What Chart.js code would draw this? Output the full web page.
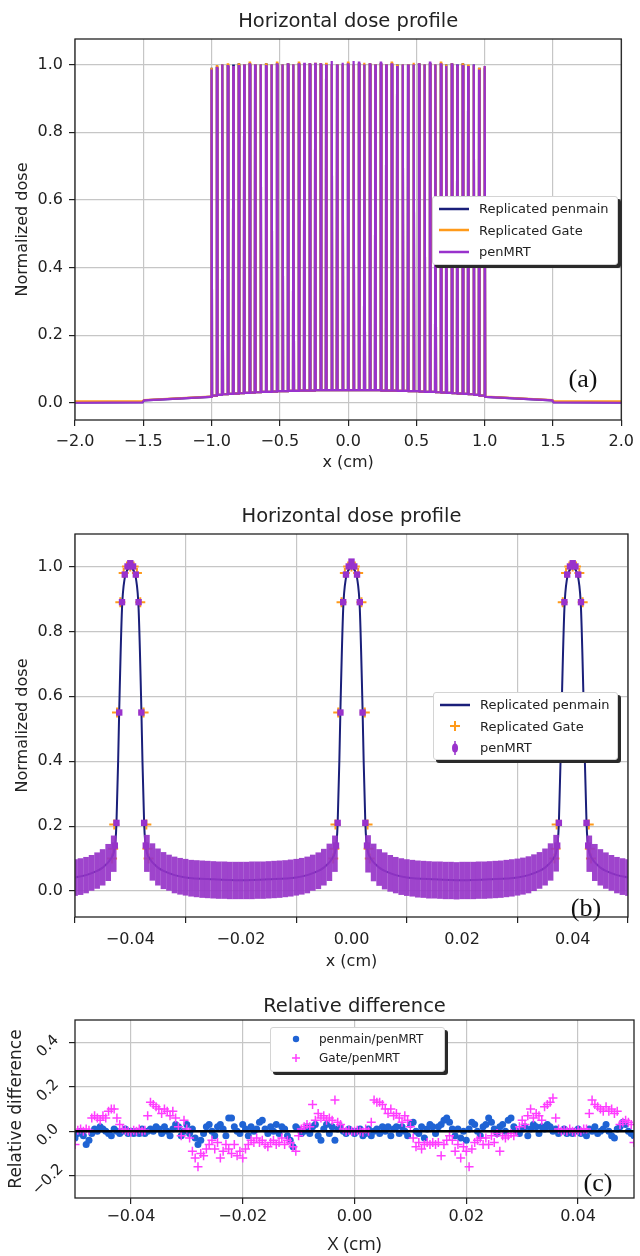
<!DOCTYPE html>
<html>
<head>
<meta charset="utf-8">
<script src="https://cdn.jsdelivr.net/npm/chart.js@4.4.1/dist/chart.umd.min.js"></script>
<style>
  body { margin: 0; background: #fff; }
  #page { position: relative; width: 640px; height: 1256px; overflow: hidden; font-family: "DejaVu Sans", sans-serif; }
  canvas { position: absolute; left: 0; }
  .legend { position: absolute; background: #fff; border: 1px solid #d4d4d4; border-radius: 3px; box-shadow: 3px 3px 0 #2a2a2a; color: #222; box-sizing: border-box; padding: 1px 0 0 6px; font-size: 13px; }
  .legend .row { display: flex; align-items: center; height: 21.5px; white-space: nowrap; }
  .legend svg { margin-right: 10px; flex: none; }
  .legendC { font-size: 12px; padding-left: 12px; }
  .legendC .row { height: 19px; }
  .tag { position: absolute; transform: translate(-50%, -50%); font-family: "Liberation Serif", serif; font-size: 26px; color: #111; }
</style>
</head>
<body>
<div id="page">
  <canvas id="chartA" width="640" height="475" style="top:0"></canvas>
  <canvas id="chartB" width="640" height="500" style="top:475px"></canvas>
  <canvas id="chartC" width="640" height="281" style="top:975px"></canvas>

  <div class="legend" style="left:432px;top:196px;width:186px;height:69px">
    <div class="row"><svg width="30" height="10"><line x1="0" y1="5" x2="30" y2="5" stroke="#1a1f7a" stroke-width="2.5"/></svg>Replicated penmain</div>
    <div class="row"><svg width="30" height="10"><line x1="0" y1="5" x2="30" y2="5" stroke="#ff9a1a" stroke-width="2.5"/></svg>Replicated Gate</div>
    <div class="row"><svg width="30" height="10"><line x1="0" y1="5" x2="30" y2="5" stroke="#9932cc" stroke-width="2.5"/></svg>penMRT</div>
  </div>
  <div class="legend" style="left:433px;top:692px;width:185px;height:68px">
    <div class="row"><svg width="30" height="12"><line x1="0" y1="6" x2="30" y2="6" stroke="#1a1f7a" stroke-width="2.5"/></svg>Replicated penmain</div>
    <div class="row"><svg width="30" height="12"><path d="M15 1 V11 M10 6 H20" stroke="#ff9a1a" stroke-width="2"/></svg>Replicated Gate</div>
    <div class="row"><svg width="30" height="14"><path d="M15 0 V14" stroke="#9932cc" stroke-width="1.5"/><ellipse cx="15" cy="7" rx="3" ry="4.5" fill="#9932cc"/></svg>penMRT</div>
  </div>
  <div class="legend legendC" style="left:270px;top:1027px;width:175px;height:45px">
    <div class="row"><svg width="26" height="10"><circle cx="13" cy="5" r="3.2" fill="#1f63d4"/></svg>penmain/penMRT</div>
    <div class="row"><svg width="26" height="10"><path d="M13 1 V9 M9 5 H17" stroke="#ff3dff" stroke-width="1.5"/></svg>Gate/penMRT</div>
  </div>

  <div class="tag" style="left:583px;top:379px">(a)</div>
  <div class="tag" style="left:586px;top:908px">(b)</div>
  <div class="tag" style="left:598px;top:1183px">(c)</div>
</div>

<script>
// ---------- panel (a): full field, 51 microbeams ----------
const aXTicks = [-2.0, -1.5, -1.0, -0.5, 0.0, 0.5, 1.0, 1.5, 2.0];
const aYTicks = [0.0, 0.2, 0.4, 0.6, 0.8, 1.0];
const aPeakX = [-1.00, -0.96, -0.92, -0.88, -0.84, -0.80, -0.76, -0.72, -0.68, -0.64,
  -0.60, -0.56, -0.52, -0.48, -0.44, -0.40, -0.36, -0.32, -0.28, -0.24,
  -0.20, -0.16, -0.12, -0.08, -0.04, 0.00, 0.04, 0.08, 0.12, 0.16,
  0.20, 0.24, 0.28, 0.32, 0.36, 0.40, 0.44, 0.48, 0.52, 0.56,
  0.60, 0.64, 0.68, 0.72, 0.76, 0.80, 0.84, 0.88, 0.92, 0.96, 1.00];
// half widths of a beam (cm) at its base and at its top
const aBeamBase = 0.004;
const aBeamTop = 0.0015;
const aPenmrtPeak = [0.985, 0.99, 1.0, 0.995, 0.995, 0.995, 1.0, 1.0, 1.0, 1.0,
  0.995, 1.0, 1.0, 1.0, 1.0, 1.0, 1.0, 1.005, 1.0, 1.005,
  1.0, 1.0, 1.01, 1.0, 1.005, 1.0, 1.01, 1.005, 1.0, 1.0,
  1.0, 1.005, 1.0, 1.0, 0.995, 1.0, 1.0, 1.0, 1.0, 1.0,
  1.005, 1.0, 1.0, 0.995, 1.0, 1.0, 0.995, 0.995, 1.0, 0.985, 0.995];
const aGatePeak = [0.99, 0.995, 1.0, 1.0, 0.995, 1.0, 1.0, 1.005, 1.0, 1.0,
  1.0, 1.0, 1.005, 1.0, 1.0, 1.0, 1.005, 1.0, 1.0, 1.005,
  1.0, 1.005, 1.0, 1.0, 1.0, 1.005, 1.0, 1.0, 1.005, 1.0,
  1.0, 1.0, 1.0, 1.005, 1.0, 1.0, 1.0, 1.005, 1.0, 1.0,
  1.0, 1.0, 1.005, 1.0, 1.0, 0.995, 1.0, 1.0, 0.995, 0.99, 0.995];
const aPenmainPeak = [0.99, 0.99, 1.0, 0.995, 1.0, 1.0, 1.0, 1.0, 1.0, 1.0,
  1.0, 1.0, 1.0, 1.0, 1.0, 1.0, 1.0, 1.0, 1.0, 1.0,
  1.0, 1.0, 1.0, 1.0, 1.0, 1.0, 1.0, 1.0, 1.0, 1.0,
  1.0, 1.0, 1.0, 1.0, 1.0, 1.0, 1.0, 1.0, 1.0, 1.0,
  1.0, 1.0, 1.0, 1.0, 1.0, 1.0, 1.0, 0.995, 1.0, 0.99, 0.99];
const aValley = [0.022, 0.024, 0.026, 0.027, 0.028, 0.029, 0.030, 0.031, 0.032, 0.033,
  0.033, 0.034, 0.035, 0.035, 0.036, 0.036, 0.037, 0.037, 0.037, 0.038,
  0.038, 0.038, 0.038, 0.038, 0.038, 0.038, 0.038, 0.038, 0.038, 0.038,
  0.038, 0.037, 0.037, 0.037, 0.036, 0.036, 0.035, 0.035, 0.034, 0.033,
  0.033, 0.032, 0.031, 0.030, 0.029, 0.028, 0.027, 0.026, 0.024, 0.022];
const aOuterLeftX = [-2.0, -1.505, -1.495, -1.01];
const aOuterRightX = [1.01, 1.495, 1.505, 2.0];
const aPenmrtLeft = [0.001, 0.002, 0.008, 0.018];
const aPenmrtRight = [0.018, 0.008, 0.002, 0.001];
const aGateLeft = [0.005, 0.006, 0.009, 0.019];
const aGateRight = [0.019, 0.009, 0.006, 0.005];
const aPenmainLeft = [0.002, 0.003, 0.008, 0.018];
const aPenmainRight = [0.018, 0.008, 0.003, 0.002];

// ---------- panel (b): zoom on three beams ----------
const bXTicks = [-0.04, -0.02, 0.00, 0.02, 0.04];
const bYTicks = [0.0, 0.2, 0.4, 0.6, 0.8, 1.0];
const bLineX = [-0.050, -0.048, -0.046, -0.045, -0.0445, -0.044, -0.0435, -0.043, -0.0427, -0.0425,
  -0.0422, -0.0420, -0.0415, -0.0410, -0.0405, -0.0400, -0.0395, -0.0390, -0.0385, -0.0380,
  -0.0378, -0.0375, -0.0373, -0.0370, -0.0365, -0.0360, -0.0355, -0.0350, -0.0340, -0.0320,
  -0.0300, -0.0250, -0.0200, -0.0150, -0.0100, -0.0080, -0.0060, -0.0050, -0.0045, -0.0040,
  -0.0035, -0.0030, -0.0027, -0.0025, -0.0022, -0.0020, -0.0015, -0.0010, -0.0005, 0.0000,
  0.0005, 0.0010, 0.0015, 0.0020, 0.0022, 0.0025, 0.0027, 0.0030, 0.0035, 0.0040,
  0.0045, 0.0050, 0.0060, 0.0080, 0.0100, 0.0150, 0.0200, 0.0250, 0.0300, 0.0320,
  0.0340, 0.0350, 0.0355, 0.0360, 0.0365, 0.0370, 0.0373, 0.0375, 0.0378, 0.0380,
  0.0385, 0.0390, 0.0395, 0.0400, 0.0405, 0.0410, 0.0415, 0.0420, 0.0422, 0.0425,
  0.0427, 0.0430, 0.0435, 0.0440, 0.0445, 0.0450, 0.0460, 0.0480, 0.0500];
const bPenmain = [0.042, 0.049, 0.062, 0.072, 0.080, 0.088, 0.100, 0.118, 0.150, 0.210,
  0.400, 0.560, 0.870, 0.965, 0.990, 1.000, 0.990, 0.965, 0.870, 0.560,
  0.400, 0.210, 0.150, 0.118, 0.100, 0.088, 0.080, 0.072, 0.062, 0.049,
  0.042, 0.036, 0.033, 0.036, 0.042, 0.049, 0.062, 0.072, 0.080, 0.088,
  0.100, 0.118, 0.150, 0.210, 0.400, 0.560, 0.870, 0.965, 0.990, 1.000,
  0.990, 0.965, 0.870, 0.560, 0.400, 0.210, 0.150, 0.118, 0.100, 0.088,
  0.080, 0.072, 0.062, 0.049, 0.042, 0.036, 0.033, 0.036, 0.042, 0.049,
  0.062, 0.072, 0.080, 0.088, 0.100, 0.118, 0.150, 0.210, 0.400, 0.560,
  0.870, 0.965, 0.990, 1.000, 0.990, 0.965, 0.870, 0.560, 0.400, 0.210,
  0.150, 0.118, 0.100, 0.088, 0.080, 0.072, 0.062, 0.049, 0.042];
const bGateX = [-0.0433, -0.0431, -0.0429, -0.0424, -0.0418, -0.0412, -0.0406, -0.0400, -0.0394, -0.0388, -0.0382, -0.0376, -0.0371, -0.0369, -0.0367,
  -0.0033, -0.0031, -0.0029, -0.0024, -0.0018, -0.0012, -0.0006, 0.0000, 0.0006, 0.0012, 0.0018, 0.0024, 0.0029, 0.0031, 0.0033,
  0.0367, 0.0369, 0.0371, 0.0376, 0.0382, 0.0388, 0.0394, 0.0400, 0.0406, 0.0412, 0.0418, 0.0424, 0.0429, 0.0431, 0.0433];
const bGate = [0.10, 0.13, 0.205, 0.55, 0.89, 0.98, 1.0, 1.0, 1.0, 0.98, 0.89, 0.55, 0.205, 0.13, 0.10,
  0.10, 0.13, 0.205, 0.55, 0.89, 0.98, 1.0, 1.0, 1.0, 0.98, 0.89, 0.55, 0.205, 0.13, 0.10,
  0.10, 0.13, 0.205, 0.55, 0.89, 0.98, 1.0, 1.0, 1.0, 0.98, 0.89, 0.55, 0.205, 0.13, 0.10];
const bMrtX = [-0.0428, -0.0425, -0.0420, -0.0415, -0.0410, -0.0405, -0.0400, -0.0395, -0.0390, -0.0385, -0.0380, -0.0375, -0.0372,
  -0.0028, -0.0025, -0.0020, -0.0015, -0.0010, -0.0005, 0.0000, 0.0005, 0.0010, 0.0015, 0.0020, 0.0025, 0.0028,
  0.0372, 0.0375, 0.0380, 0.0385, 0.0390, 0.0395, 0.0400, 0.0405, 0.0410, 0.0415, 0.0420, 0.0425, 0.0428];
const bMrt = [0.14, 0.21, 0.55, 0.89, 0.975, 1.0, 1.01, 1.0, 0.975, 0.89, 0.55, 0.21, 0.14,
  0.14, 0.21, 0.55, 0.89, 0.975, 1.0, 1.015, 1.0, 0.975, 0.89, 0.55, 0.21, 0.14,
  0.14, 0.21, 0.55, 0.89, 0.975, 1.0, 1.01, 1.0, 0.975, 0.89, 0.55, 0.21, 0.14];
// penMRT error bars in the valleys (low / high end of each bar)
const bErrX = [-0.050, -0.049, -0.048, -0.047, -0.046, -0.045, -0.044, -0.043,
  -0.037, -0.036, -0.035, -0.034, -0.033, -0.032, -0.031, -0.030, -0.029, -0.028,
  -0.027, -0.026, -0.025, -0.024, -0.023, -0.022, -0.021, -0.020, -0.019, -0.018,
  -0.017, -0.016, -0.015, -0.014, -0.013, -0.012, -0.011, -0.010, -0.009, -0.008,
  -0.007, -0.006, -0.005, -0.004, -0.003,
  0.003, 0.004, 0.005, 0.006, 0.007, 0.008, 0.009, 0.010, 0.011, 0.012,
  0.013, 0.014, 0.015, 0.016, 0.017, 0.018, 0.019, 0.020, 0.021, 0.022,
  0.023, 0.024, 0.025, 0.026, 0.027, 0.028, 0.029, 0.030, 0.031, 0.032,
  0.033, 0.034, 0.035, 0.036, 0.037,
  0.043, 0.044, 0.045, 0.046, 0.047, 0.048, 0.049, 0.050];
const bErrLo = [-0.014, -0.011, -0.006, 0.000, 0.008, 0.018, 0.032, 0.060,
  0.060, 0.033, 0.018, 0.007, 0.000, -0.006, -0.010, -0.013, -0.016, -0.018,
  -0.020, -0.021, -0.022, -0.023, -0.023, -0.024, -0.024, -0.024, -0.024, -0.024,
  -0.023, -0.023, -0.022, -0.021, -0.020, -0.018, -0.016, -0.013, -0.010, -0.006,
  0.000, 0.007, 0.018, 0.032, 0.060,
  0.058, 0.031, 0.017, 0.006, -0.001, -0.006, -0.011, -0.014, -0.016, -0.019,
  -0.020, -0.022, -0.022, -0.023, -0.024, -0.024, -0.025, -0.024, -0.024, -0.024,
  -0.023, -0.023, -0.022, -0.021, -0.020, -0.018, -0.016, -0.013, -0.010, -0.006,
  0.001, 0.008, 0.018, 0.033, 0.061,
  0.060, 0.032, 0.018, 0.008, 0.000, -0.006, -0.011, -0.014];
const bErrHi = [0.097, 0.100, 0.104, 0.110, 0.118, 0.128, 0.144, 0.170,
  0.172, 0.146, 0.130, 0.119, 0.111, 0.105, 0.101, 0.098, 0.095, 0.094,
  0.093, 0.092, 0.091, 0.090, 0.090, 0.089, 0.089, 0.089, 0.089, 0.090,
  0.090, 0.090, 0.091, 0.092, 0.093, 0.094, 0.096, 0.098, 0.101, 0.105,
  0.111, 0.118, 0.129, 0.145, 0.170,
  0.171, 0.145, 0.128, 0.118, 0.110, 0.104, 0.100, 0.097, 0.095, 0.093,
  0.092, 0.091, 0.090, 0.090, 0.089, 0.089, 0.088, 0.089, 0.089, 0.089,
  0.090, 0.090, 0.091, 0.092, 0.093, 0.095, 0.097, 0.099, 0.102, 0.106,
  0.112, 0.119, 0.130, 0.146, 0.172,
  0.170, 0.144, 0.128, 0.118, 0.110, 0.104, 0.100, 0.097];

// ---------- panel (c): relative difference ----------
const cXTicks = [-0.04, -0.02, 0.00, 0.02, 0.04];
const cYTicks = [-0.2, 0.0, 0.2, 0.4];
const cX = [-0.0500, -0.0495, -0.0490, -0.0485, -0.0480, -0.0475, -0.0470, -0.0465, -0.0460, -0.0455,
  -0.0450, -0.0445, -0.0440, -0.0435, -0.0430, -0.0425, -0.0420, -0.0415, -0.0410, -0.0405,
  -0.0400, -0.0395, -0.0390, -0.0385, -0.0380, -0.0375, -0.0370, -0.0365, -0.0360, -0.0355,
  -0.0350, -0.0345, -0.0340, -0.0335, -0.0330, -0.0325, -0.0320, -0.0315, -0.0310, -0.0305,
  -0.0300, -0.0295, -0.0290, -0.0285, -0.0280, -0.0275, -0.0270, -0.0265, -0.0260, -0.0255,
  -0.0250, -0.0245, -0.0240, -0.0235, -0.0230, -0.0225, -0.0220, -0.0215, -0.0210, -0.0205,
  -0.0200, -0.0195, -0.0190, -0.0185, -0.0180, -0.0175, -0.0170, -0.0165, -0.0160, -0.0155,
  -0.0150, -0.0145, -0.0140, -0.0135, -0.0130, -0.0125, -0.0120, -0.0115, -0.0110, -0.0105,
  -0.0100, -0.0095, -0.0090, -0.0085, -0.0080, -0.0075, -0.0070, -0.0065, -0.0060, -0.0055,
  -0.0050, -0.0045, -0.0040, -0.0035, -0.0030, -0.0025, -0.0020, -0.0015, -0.0010, -0.0005,
  0.0000, 0.0005, 0.0010, 0.0015, 0.0020, 0.0025, 0.0030, 0.0035, 0.0040, 0.0045,
  0.0050, 0.0055, 0.0060, 0.0065, 0.0070, 0.0075, 0.0080, 0.0085, 0.0090, 0.0095,
  0.0100, 0.0105, 0.0110, 0.0115, 0.0120, 0.0125, 0.0130, 0.0135, 0.0140, 0.0145,
  0.0150, 0.0155, 0.0160, 0.0165, 0.0170, 0.0175, 0.0180, 0.0185, 0.0190, 0.0195,
  0.0200, 0.0205, 0.0210, 0.0215, 0.0220, 0.0225, 0.0230, 0.0235, 0.0240, 0.0245,
  0.0250, 0.0255, 0.0260, 0.0265, 0.0270, 0.0275, 0.0280, 0.0285, 0.0290, 0.0295,
  0.0300, 0.0305, 0.0310, 0.0315, 0.0320, 0.0325, 0.0330, 0.0335, 0.0340, 0.0345,
  0.0350, 0.0355, 0.0360, 0.0365, 0.0370, 0.0375, 0.0380, 0.0385, 0.0390, 0.0395,
  0.0400, 0.0405, 0.0410, 0.0415, 0.0420, 0.0425, 0.0430, 0.0435, 0.0440, 0.0445,
  0.0450, 0.0455, 0.0460, 0.0465, 0.0470, 0.0475, 0.0480, 0.0485, 0.0490, 0.0495,
  0.0500];
const cPenmainRatio = [-0.03, -0.01, 0.00, -0.02, -0.06, -0.04, -0.01, 0.01, 0.00, 0.02,
  0.01, 0.00, -0.01, -0.02, 0.01, 0.00, -0.01, 0.00, 0.01, -0.01,
  0.00, -0.01, 0.00, -0.01, 0.01, -0.01, 0.00, 0.01, 0.00, 0.02,
  0.01, -0.01, 0.02, 0.00, -0.02, 0.01, 0.03, 0.02, -0.02, 0.00,
  0.03, -0.01, 0.01, -0.03, -0.06, -0.04, -0.01, 0.02, 0.03, 0.00,
  -0.02, 0.02, 0.03, 0.01, -0.02, 0.06, 0.06, 0.02, 0.00, -0.01,
  0.03, 0.01, -0.02, 0.02, 0.00, 0.01, 0.04, 0.05, 0.01, -0.01,
  0.02, 0.00, 0.03, -0.01, 0.02, 0.01, -0.02, -0.04, -0.07, 0.02,
  0.01, -0.01, 0.00, 0.02, -0.01, 0.02, 0.03, -0.02, -0.04, 0.01,
  0.03, -0.01, 0.02, -0.04, 0.01, 0.02, 0.00, -0.01, 0.01, 0.00,
  -0.01, 0.00, 0.01, -0.02, -0.01, 0.01, -0.02, 0.00, 0.01, -0.01,
  0.02, 0.00, 0.02, -0.02, 0.01, 0.02, -0.01, 0.02, 0.00, -0.02,
  0.03, 0.04, 0.00, -0.01, 0.02, -0.03, 0.01, 0.03, 0.02, -0.01,
  0.02, 0.03, 0.05, 0.06, 0.04, 0.01, -0.02, 0.01, -0.03, 0.00,
  -0.04, 0.01, 0.04, 0.03, 0.00, -0.02, 0.02, 0.03, 0.06, 0.04,
  0.01, -0.01, 0.02, 0.03, 0.00, 0.05, 0.06, 0.02, 0.00, -0.01,
  0.01, 0.02, -0.02, 0.01, 0.03, 0.02, -0.01, 0.02, 0.01, 0.03,
  0.02, 0.00, 0.01, -0.01, 0.00, 0.01, -0.01, 0.00, -0.01, 0.00,
  0.01, -0.01, 0.00, -0.02, 0.01, 0.00, 0.02, -0.01, 0.00, 0.01,
  0.03, 0.00, -0.02, -0.03, 0.01, 0.02, 0.04, 0.03, 0.00, -0.01,
  -0.02];
const cGateRatio = [-0.06, 0.005, 0.01, 0.00, 0.01, 0.005, 0.06, 0.07, 0.06, 0.05,
  0.07, 0.06, 0.09, 0.10, 0.10, 0.06, 0.03, 0.01, 0.005, 0.00,
  -0.005, 0.005, 0.00, 0.01, 0.00, 0.005, 0.07, 0.13, 0.12, 0.11,
  0.10, 0.08, 0.10, 0.09, 0.07, 0.09, 0.06, 0.02, -0.02, 0.05,
  0.01, -0.03, -0.09, -0.12, -0.16, -0.10, -0.11, -0.08, -0.06, -0.04,
  -0.08, -0.05, -0.12, -0.09, -0.06, -0.08, -0.10, -0.06, -0.11, -0.09,
  -0.12, -0.08, -0.06, -0.04, -0.05, -0.03, -0.05, -0.04, -0.06, -0.07,
  -0.05, -0.04, -0.06, -0.05, -0.03, -0.06, -0.04, -0.05, -0.07, -0.09,
  -0.02, 0.01, 0.02, 0.03, 0.02, 0.12, 0.05, 0.08, 0.06, 0.07,
  0.05, 0.06, 0.05, 0.14, 0.04, 0.03, 0.01, 0.00, 0.005, 0.00,
  0.00, 0.005, 0.00, -0.005, 0.01, 0.00, 0.04, 0.14, 0.13, 0.13,
  0.12, 0.10, 0.08, 0.10, 0.07, 0.08, 0.06, 0.04, 0.07, 0.05,
  0.02, -0.03, -0.07, -0.05, -0.08, -0.06, -0.05, -0.06, -0.05, -0.06,
  -0.05, -0.11, -0.06, -0.04, -0.02, -0.04, -0.09, -0.06, -0.12, -0.07,
  -0.09, -0.16, -0.08, -0.05, -0.04, -0.03, -0.06, -0.03, -0.06, -0.02,
  -0.05, -0.01, -0.09, -0.02, -0.03, -0.02, -0.01, -0.02, 0.00, 0.02,
  0.05, 0.03, 0.07, 0.10, 0.06, 0.08, 0.07, 0.05, 0.11, 0.12,
  0.13, 0.15, 0.06, 0.01, 0.00, 0.005, 0.00, 0.01, 0.00, -0.005,
  0.005, 0.00, 0.01, 0.01, 0.08, 0.14, 0.12, 0.11, 0.10, 0.09,
  0.11, 0.09, 0.10, 0.08, 0.09, 0.03, 0.04, 0.05, 0.04, 0.03,
  -0.05];
const cZeroX = [-0.05, 0.05];
const cZeroY = [0, 0];

// ---------- helpers ----------
Chart.defaults.font.family = '"DejaVu Sans", sans-serif';
Chart.defaults.color = '#222';

const fmt = (d) => (v) => (v < 0 ? '\u2212' : '') + Math.abs(v).toFixed(d);
const pts = (xs, ys) => xs.map((x, i) => ({ x: x, y: ys[i] }));

function beamProfile(peaks, left, right) {
  const out = pts(aOuterLeftX, left);
  aPeakX.forEach((c, i) => {
    const before = i === 0 ? left[left.length - 1] : aValley[i - 1];
    const after = i === aPeakX.length - 1 ? right[0] : aValley[i];
    out.push({ x: c - aBeamBase, y: before }, { x: c - aBeamTop, y: peaks[i] },
      { x: c + aBeamTop, y: peaks[i] }, { x: c + aBeamBase, y: after });
  });
  return out.concat(pts(aOuterRightX, right));
}

// box around the plot area and a title centred over it
const framePlugin = {
  id: 'frame',
  afterDatasetsDraw(chart, args, opts) {
    const { ctx, chartArea: a } = chart;
    ctx.save();
    ctx.strokeStyle = '#222';
    ctx.lineWidth = 1.3;
    ctx.strokeRect(a.left, a.top, a.right - a.left, a.bottom - a.top);
    ctx.restore();
  },
  afterDraw(chart, args, opts) {
    const { ctx, chartArea: a } = chart;
    ctx.save();
    ctx.font = opts.font;
    ctx.fillStyle = '#222';
    ctx.textAlign = 'center';
    ctx.textBaseline = 'middle';
    ctx.fillText(opts.text, (a.left + a.right) / 2, a.top - opts.gap);
    ctx.restore();
  }
};

// slanted y tick labels of panel (c)
const slantTicks = {
  id: 'slantTicks',
  afterDraw(chart) {
    const s = chart.scales.y, ctx = chart.ctx;
    ctx.save();
    ctx.font = '15px "DejaVu Sans"';
    ctx.fillStyle = '#222';
    ctx.textAlign = 'center';
    ctx.textBaseline = 'middle';
    cYTicks.forEach((v) => {
      ctx.save();
      ctx.translate(48, s.getPixelForValue(v) + 4);
      ctx.rotate(-Math.PI / 4);
      ctx.fillText(fmt(1)(v), 0, 0);
      ctx.restore();
    });
    ctx.restore();
  }
};

function axis(o) {
  return {
    type: 'linear',
    min: o.min, max: o.max,
    offset: false,
    afterBuildTicks: (s) => { s.ticks = o.ticks.map((v) => ({ value: v })); },
    afterFit: (s) => { if (o.width) s.width = o.width; if (o.height) s.height = o.height; },
    grid: { color: '#c6c6c6', lineWidth: 1.2, tickColor: '#222', tickLength: 6, tickWidth: 1.2 },
    border: { display: false },
    ticks: { display: o.showTicks !== false, font: { size: o.tickSize || 16 }, padding: o.pad, callback: fmt(o.dec) },
    title: o.title ? { display: true, text: o.title, font: o.titleFont, padding: o.titlePad } : { display: false }
  };
}

function baseOptions(o) {
  return {
    responsive: false,
    animation: false,
    layout: { padding: { top: o.top, right: o.right, left: 0, bottom: 0 } },
    plugins: { legend: { display: false }, tooltip: { enabled: false }, frame: { text: o.title, gap: o.gap, font: o.titleFont } },
    scales: { x: o.x, y: o.y }
  };
}

// ---------- chart (a) ----------
new Chart(document.getElementById('chartA'), {
  type: 'scatter',
  data: {
    datasets: [
      { label: 'penMRT', data: beamProfile(aPenmrtPeak, aPenmrtLeft, aPenmrtRight), showLine: true, borderColor: '#9932cc', borderWidth: 2.2, pointRadius: 0, order: 0 },
      { label: 'Replicated Gate', data: beamProfile(aGatePeak, aGateLeft, aGateRight), showLine: true, borderColor: '#ff9a1a', borderWidth: 2.2, pointRadius: 0, order: 1 },
      { label: 'Replicated penmain', data: beamProfile(aPenmainPeak, aPenmainLeft, aPenmainRight), showLine: true, borderColor: '#1a1f7a', borderWidth: 2.2, pointRadius: 0, order: 2 }
    ]
  },
  options: baseOptions({
    top: 39, right: 12, title: 'Horizontal dose profile', gap: 17, titleFont: '19.5px "DejaVu Sans"',
    x: axis({ min: -2, max: 2, ticks: aXTicks, dec: 1, height: 55, pad: 6, title: 'x (cm)', titleFont: { size: 16 }, titlePad: { top: 0, bottom: 3 } }),
    y: axis({ min: -0.05, max: 1.075, ticks: aYTicks, dec: 1, width: 75, pad: 6, title: 'Normalized dose', titleFont: { size: 16 }, titlePad: { top: 13, bottom: 0 } })
  }),
  plugins: [framePlugin]
});

// ---------- chart (b) ----------
new Chart(document.getElementById('chartB'), {
  type: 'scatter',
  data: {
    datasets: [
      { type: 'bar', label: 'penMRT error', data: bErrX.map((x, i) => ({ x: x, y: [bErrLo[i], bErrHi[i]] })), backgroundColor: 'rgba(150, 52, 200, 0.92)', barThickness: 5, order: 0 },
      { label: 'penMRT', data: pts(bMrtX, bMrt), pointStyle: 'rect', pointRadius: 4.5, backgroundColor: '#9932cc', borderWidth: 0, order: 1 },
      { label: 'Replicated penmain', data: pts(bLineX, bPenmain), showLine: true, borderColor: '#1a1f7a', borderWidth: 2, pointRadius: 0, cubicInterpolationMode: 'monotone', order: 2 },
      { label: 'Replicated Gate', data: pts(bGateX, bGate), pointStyle: 'cross', pointRadius: 5, borderColor: '#ff9a1a', borderWidth: 2, order: 3 }
    ]
  },
  options: baseOptions({
    top: 59, right: 12, title: 'Horizontal dose profile', gap: 17, titleFont: '19.5px "DejaVu Sans"',
    x: axis({ min: -0.05, max: 0.05, ticks: bXTicks, dec: 2, height: 58, pad: 7, title: 'x (cm)', titleFont: { size: 16 }, titlePad: { top: 0, bottom: 3.5 } }),
    y: axis({ min: -0.08, max: 1.10, ticks: bYTicks, dec: 1, width: 75, pad: 6, title: 'Normalized dose', titleFont: { size: 16 }, titlePad: { top: 13, bottom: 0 } })
  }),
  plugins: [framePlugin]
});

// ---------- chart (c) ----------
new Chart(document.getElementById('chartC'), {
  type: 'scatter',
  data: {
    datasets: [
      { label: 'zero', data: pts(cZeroX, cZeroY), showLine: true, borderColor: '#000', borderWidth: 2.5, pointRadius: 0, order: 0 },
      { label: 'Gate/penMRT', data: pts(cX, cGateRatio), pointStyle: 'cross', pointRadius: 4.5, borderColor: '#ff3dff', borderWidth: 1.5, order: 1 },
      { label: 'penmain/penMRT', data: pts(cX, cPenmainRatio), pointStyle: 'circle', pointRadius: 3.5, backgroundColor: '#1f63d4', borderWidth: 0, order: 2 }
    ]
  },
  options: baseOptions({
    top: 45, right: 2, title: 'Relative difference', gap: 13, titleFont: '19.5px "DejaVu Sans"',
    x: axis({ min: -0.05, max: 0.05, ticks: cXTicks, dec: 2, height: 58, pad: 3, tickSize: 16, title: 'X (cm)', titleFont: { size: 19, family: '"Open Sans", sans-serif' }, titlePad: { top: 0, bottom: 0 } }),
    y: axis({ min: -0.3, max: 0.5, ticks: cYTicks, dec: 1, width: 75, showTicks: false, title: 'Relative difference', titleFont: { size: 17 }, titlePad: { top: 6, bottom: 0 } })
  }),
  plugins: [framePlugin, slantTicks]
});
</script>
</body>
</html>
